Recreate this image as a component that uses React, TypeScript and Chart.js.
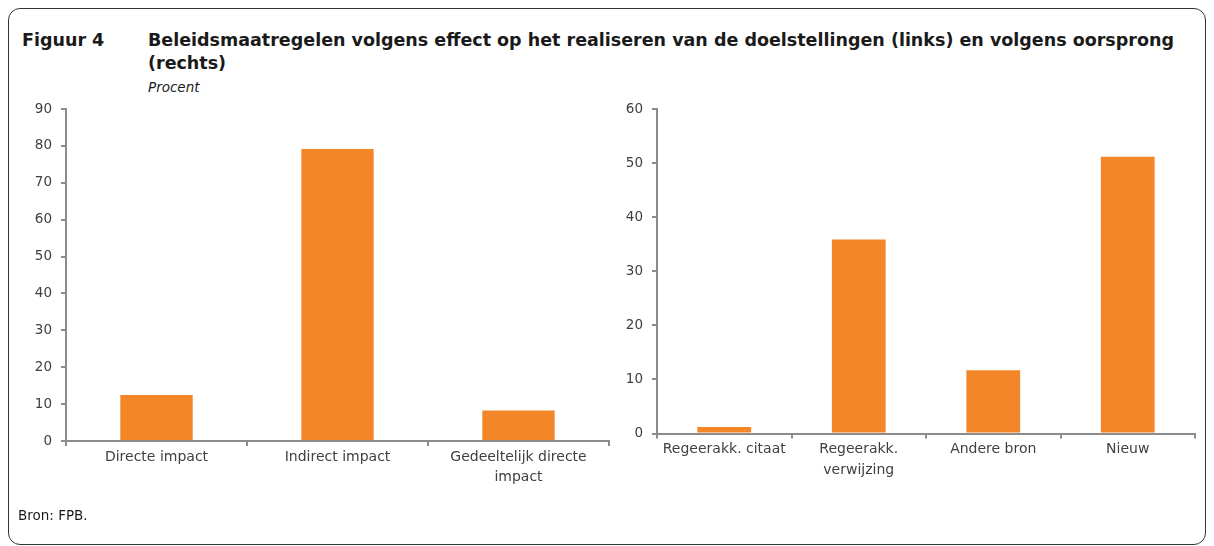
import React, { useEffect, useRef } from "react";
import { Chart, registerables } from "chart.js";

Chart.register(...registerables);

const leftCategories: (string | string[])[] = ["Directe impact", "Indirect impact", ["Gedeeltelijk directe", "impact"]];
const leftValues: number[] = [12.5, 79.2, 8.3];
const leftYMax = 90;

const rightCategories: (string | string[])[] = ["Regeerakk. citaat", ["Regeerakk.", "verwijzing"], "Andere bron", "Nieuw"];
const rightValues: number[] = [1.2, 35.9, 11.7, 51.2];
const rightYMax = 60;

const yStep = 10;

const BAR = "#F4862A";
const AXIS = "#8C8C8C";
const TEXT = "#404040";
const FONT = "'DejaVu Sans', Tahoma, sans-serif";

function makeConfig(labels: (string | string[])[], values: number[], yMax: number, yWidth: number, xHeight: number, padRight: number): any {
  return {
    type: "bar",
    data: {
      labels,
      datasets: [
        {
          data: values,
          backgroundColor: BAR,
          borderWidth: 0,
          barPercentage: 0.4,
          categoryPercentage: 1.0,
        },
      ],
    },
    options: {
      responsive: false,
      animation: false,
      devicePixelRatio: 1,
      layout: { padding: { top: 12, right: padRight, bottom: 0, left: 0 } },
      plugins: { legend: { display: false }, tooltip: { enabled: false }, title: { display: false } },
      scales: {
        x: {
          type: "category",
          offset: true,
          grid: {
            offset: true,
            drawOnChartArea: false,
            drawTicks: true,
            tickLength: 5,
            color: AXIS,
            lineWidth: 2,
          },
          border: { display: true, color: AXIS, width: 2 },
          ticks: {
            color: TEXT,
            font: { family: FONT, size: 14, lineHeight: 1.45 },
            padding: 1,
            maxRotation: 0,
            minRotation: 0,
            autoSkip: false,
          },
          afterFit: (s: any) => {
            s.height = xHeight;
          },
        },
        y: {
          min: 0,
          max: yMax,
          ticks: {
            stepSize: yStep,
            color: TEXT,
            font: { family: FONT, size: 13.5 },
            padding: 9,
          },
          grid: {
            drawOnChartArea: false,
            drawTicks: true,
            tickLength: 5,
            color: AXIS,
            lineWidth: 2,
          },
          border: { display: true, color: AXIS, width: 2 },
          afterFit: (s: any) => {
            s.width = yWidth;
          },
        },
      },
    },
  };
}

function BarChart(props: { labels: (string | string[])[]; values: number[]; yMax: number; width: number; height: number; yWidth: number; xHeight: number; padRight: number; style: React.CSSProperties }) {
  const ref = useRef<HTMLCanvasElement | null>(null);
  useEffect(() => {
    if (!ref.current) return;
    const chart = new Chart(ref.current, makeConfig(props.labels, props.values, props.yMax, props.yWidth, props.xHeight, props.padRight));
    return () => chart.destroy();
  }, []);
  return <canvas ref={ref} width={props.width} height={props.height} style={{ position: "absolute", width: props.width, height: props.height, ...props.style }} />;
}

export default function App() {
  // container: page origin = 9 (8 margin + 1 border)
  return (
    <div
      style={{
        position: "relative",
        width: 1198,
        height: 537,
        boxSizing: "border-box",
        border: "1px solid #333",
        borderRadius: 12,
        fontFamily: FONT,
        background: "#fff",
      }}
    >
      <div style={{ position: "absolute", left: 13, top: 19.5, fontWeight: "bold", fontSize: 17.5, lineHeight: "23px", color: "#1a1a1a", whiteSpace: "nowrap" }}>
        Figuur 4
      </div>
      <div style={{ position: "absolute", left: 139, top: 19.5, fontWeight: "bold", fontSize: 17.5, lineHeight: "23px", color: "#1a1a1a", whiteSpace: "nowrap" }}>
        Beleidsmaatregelen volgens effect op het realiseren van de doelstellingen (links) en volgens oorsprong
        <br />
        (rechts)
      </div>
      <div style={{ position: "absolute", left: 139, top: 70, fontStyle: "italic", fontSize: 13.5, lineHeight: "16px", color: "#1a1a1a", whiteSpace: "nowrap" }}>
        Procent
      </div>
      <BarChart
        labels={leftCategories}
        values={leftValues}
        yMax={leftYMax}
        width={600}
        height={424}
        yWidth={50}
        xHeight={75}
        padRight={7}
        style={{ left: 7, top: 83 }}
      />
      <BarChart
        labels={rightCategories}
        values={rightValues}
        yMax={rightYMax}
        width={590}
        height={424}
        yWidth={45}
        xHeight={82.5}
        padRight={7}
        style={{ left: 603, top: 83 }}
      />
      <div style={{ position: "absolute", left: 9, top: 498, fontSize: 13.5, lineHeight: "16px", color: "#1a1a1a", whiteSpace: "nowrap" }}>
        Bron: FPB.
      </div>
    </div>
  );
}
